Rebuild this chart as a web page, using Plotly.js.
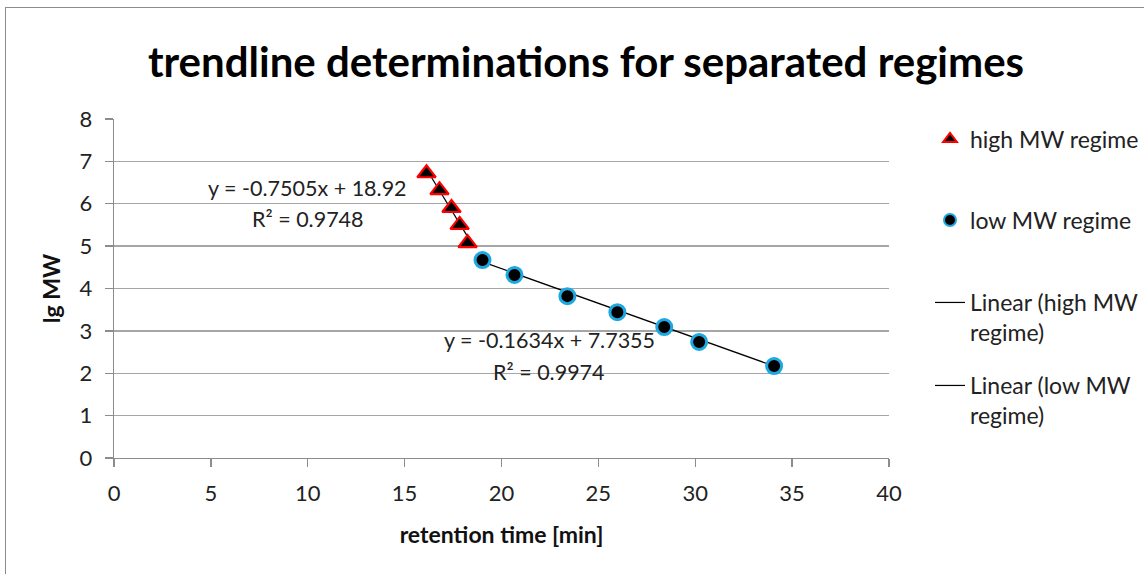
<!DOCTYPE html>
<html>
<head>
<meta charset="utf-8">
<script src="https://cdn.plot.ly/plotly-3.0.1.min.js"></script>
<style>
  html, body { margin: 0; padding: 0; background: #fff; overflow: hidden; }
  #frame { position: absolute; left: 5px; top: 7px; width: 1300px; height: 700px;
           border-left: 1px solid #8c8c8c; border-top: 1px solid #8c8c8c; pointer-events: none; z-index: 2; }
  #chart { position: absolute; left: 0; top: 0; width: 1144px; height: 574px; }
</style>
</head>
<body>
<div id="chart"></div>
<div id="frame"></div>
<script>
// ---- data ----
const highX = [16.13, 16.8, 17.42, 17.84, 18.25];
const highY = [6.72, 6.32, 5.9, 5.5, 5.07];
const lowX = [19.02, 20.67, 23.4, 25.98, 28.4, 30.2, 34.07];
const lowY = [4.67, 4.32, 3.82, 3.44, 3.09, 2.74, 2.17];
const highSlope = -0.7505, highIntercept = 18.92, highR2 = 0.9748;
const lowSlope = -0.1634, lowIntercept = 7.7355, lowR2 = 0.9974;
const seriesNames = ['high MW regime', 'low MW regime', 'Linear (high MW<br>regime)', 'Linear (low MW<br>regime)'];
const xTicks = [0, 5, 10, 15, 20, 25, 30, 35, 40];
const yTicks = [0, 1, 2, 3, 4, 5, 6, 7, 8];

const FONT = 'Lato, "Liberation Sans", sans-serif';
const W = 1144, H = 574;

function fitLine(xs, m, b) {
  const x0 = Math.min(...xs), x1 = Math.max(...xs);
  return { x: [x0, x1], y: [m * x0 + b, m * x1 + b] };
}
const hl = fitLine(highX, highSlope, highIntercept);
const ll = fitLine(lowX, lowSlope, lowIntercept);

const traces = [
  { type: 'scatter', mode: 'lines', x: hl.x, y: hl.y, name: seriesNames[2], legend: 'legend3',
    line: { color: '#000000', width: 1.2 } },
  { type: 'scatter', mode: 'lines', x: ll.x, y: ll.y, name: seriesNames[3], legend: 'legend4',
    line: { color: '#000000', width: 1.2 } },
  { type: 'scatter', mode: 'markers', x: highX, y: highY, name: seriesNames[0], legend: 'legend',
    marker: { symbol: 'triangle-up', size: 16, color: '#000000', line: { color: '#ff0000', width: 2.2 } } },
  { type: 'scatter', mode: 'markers', x: lowX, y: lowY, name: seriesNames[1], legend: 'legend2',
    marker: { symbol: 'circle', size: 15, color: '#000000', line: { color: '#1ea8e0', width: 3 } } }
];

const legFont = { family: FONT, size: 23, color: '#222' };
function leg(px, py, anchor, constant) {
  const o = { xref: 'container', yref: 'container', x: px / W, y: 1 - py / H, xanchor: 'left', yanchor: anchor,
           font: legFont, bgcolor: 'rgba(0,0,0,0)', borderwidth: 0, valign: 'top' };
  if (constant) o.itemsizing = 'constant';
  return o;
}

const annFont = { family: FONT, size: 21.5, color: '#222' };
function ann(x, y, text) {
  return { xref: 'x', yref: 'y', x: x, y: y, text: text, showarrow: false, font: annFont, xanchor: 'center', yanchor: 'middle' };
}

const layout = {
  width: W, height: H,
  margin: { l: 114, r: 255, t: 119, b: 116 },
  paper_bgcolor: '#ffffff', plot_bgcolor: '#ffffff',
  title: { text: 'trendline determinations for separated regimes', xref: 'container', yref: 'container',
           x: 586 / W, xanchor: 'center', y: 1 - 62 / H, yanchor: 'middle',
           font: { family: FONT, size: 42, color: '#000', weight: 'bold' } },
  xaxis: { range: [0, 40], tickvals: xTicks, ticktext: xTicks.map(String), showgrid: false, zeroline: false,
           showline: true, linecolor: '#8c8c8c', linewidth: 1.3, ticks: 'outside', ticklen: 8, tickcolor: '#8c8c8c', tickwidth: 1.3,
           tickfont: { family: FONT, size: 22, color: '#222' }, ticklabelstandoff: 7,
           title: { text: 'retention time [min]', font: { family: FONT, size: 23, color: '#111', weight: 'bold' }, standoff: 22 } },
  yaxis: { range: [0, 8], tickvals: yTicks, ticktext: yTicks.map(String), showgrid: true, gridcolor: '#a6a6a6', gridwidth: 1.3, zeroline: false,
           showline: true, linecolor: '#8c8c8c', linewidth: 1.3, ticks: 'outside', ticklen: 8, tickcolor: '#8c8c8c', tickwidth: 1.3,
           tickfont: { family: FONT, size: 22, color: '#222' }, ticklabelstandoff: 8,
           title: { text: 'lg MW', font: { family: FONT, size: 23, color: '#111', weight: 'bold' }, standoff: 12 } },
  legend: leg(930, 139, 'middle', true),
  legend2: leg(930, 220, 'middle', true),
  legend3: leg(930, 281, 'top', false),
  legend4: leg(930, 364, 'top', false),
  annotations: [
    ann(10.0, 6.37, 'y = ' + highSlope + 'x + ' + highIntercept),
    ann(10.0, 5.64, 'R² = ' + highR2),
    ann(22.47, 2.78, 'y = ' + lowSlope + 'x + ' + lowIntercept),
    ann(22.47, 2.03, 'R² = ' + lowR2)
  ],
  showlegend: true
};

Plotly.newPlot('chart', traces, layout, { displayModeBar: false, staticPlot: true });
</script>
</body>
</html>
